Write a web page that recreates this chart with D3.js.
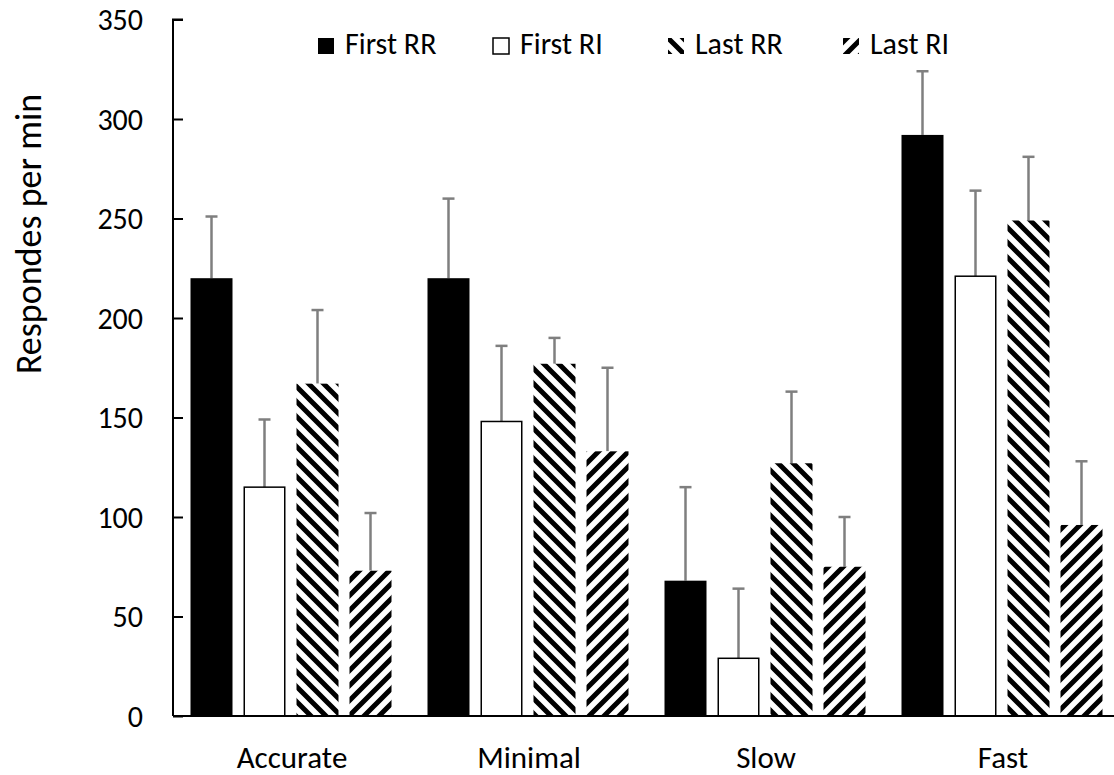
<!DOCTYPE html>
<html>
<head>
<meta charset="utf-8">
<script src="https://cdn.jsdelivr.net/npm/d3@7"></script>
<style>
  body { margin: 0; background: #fff; }
  svg text { font-family: Calibri, Carlito, Lato, sans-serif; fill: #000; }
</style>
</head>
<body>
<svg id="chart" width="1114" height="775"></svg>
<script>
// chart values
const categories = ['Accurate', 'Minimal', 'Slow', 'Fast'];
const seriesNames = ['First RR', 'First RI', 'Last RR', 'Last RI'];
const firstRR = [220, 220, 68, 292];
const firstRI = [115, 148, 29, 221];
const lastRR = [167, 177, 127, 249];
const lastRI = [73, 133, 75, 96];
// upper ends of the error bars
const firstRRErr = [251, 260, 115, 324];
const firstRIErr = [149, 186, 64, 264];
const lastRRErr = [204, 190, 163, 281];
const lastRIErr = [102, 175, 100, 128];
const yTicks = [0, 50, 100, 150, 200, 250, 300, 350];

const values = [firstRR, firstRI, lastRR, lastRI];
const errs = [firstRRErr, firstRIErr, lastRRErr, lastRIErr];

const svg = d3.select('#chart');
const plotLeft = 173, plotBottom = 716, plotTop = 19.5;

const x0 = d3.scaleBand().domain(categories).range([plotLeft, plotLeft + 4 * 237]);
const x1 = d3.scaleBand().domain(seriesNames).range([17.5, 218.5]).paddingInner(11 / 53);
const y = d3.scaleLinear().domain([0, 350]).range([plotBottom, plotTop]);

// hatch patterns
const defs = svg.append('defs');
function hatch (id, dir) {
  const p = defs.append('pattern')
    .attr('id', id)
    .attr('patternUnits', 'userSpaceOnUse')
    .attr('width', 15).attr('height', 15);
  p.append('rect').attr('width', 15).attr('height', 15).attr('fill', '#fff');
  const d = dir === 'down'
    ? 'M-4,-4 L19,19 M-4,11 L4,19 M11,-4 L19,4'
    : 'M-4,19 L19,-4 M-4,4 L4,-4 M11,19 L19,11';
  p.append('path').attr('d', d).attr('stroke', '#000').attr('stroke-width', 5);
}
hatch('hatchDown', 'down');
hatch('hatchUp', 'up');

const fills = ['#000', '#fff', 'url(#hatchDown)', 'url(#hatchUp)'];
const strokes = ['none', '#000', 'none', 'none'];

const rows = [];
categories.forEach((c, ci) => {
  seriesNames.forEach((s, si) => {
    rows.push({ cat: c, s: s, si: si, v: values[si][ci], e: errs[si][ci] });
  });
});

// error bars (behind bars)
const eb = svg.append('g').attr('stroke', '#7f7f7f').attr('stroke-width', 2.5);
rows.forEach(d => {
  const cx = x0(d.cat) + x1(d.s) + x1.bandwidth() / 2;
  eb.append('line').attr('x1', cx).attr('x2', cx).attr('y1', y(d.v)).attr('y2', y(d.e));
  eb.append('line').attr('x1', cx - 6).attr('x2', cx + 6).attr('y1', y(d.e)).attr('y2', y(d.e));
});

// bars
svg.append('g').selectAll('rect')
  .data(rows)
  .enter()
  .append('rect')
  .attr('x', d => x0(d.cat) + x1(d.s) + (d.si === 1 ? 0.75 : 0))
  .attr('y', d => y(d.v))
  .attr('width', d => x1.bandwidth() - (d.si === 1 ? 1.5 : 0))
  .attr('height', d => y(0) - y(d.v))
  .attr('fill', d => fills[d.si])
  .attr('stroke', d => strokes[d.si])
  .attr('stroke-width', 1.5);

// y axis
const yAxis = svg.append('g')
  .attr('transform', `translate(${plotLeft},0)`)
  .call(d3.axisRight(y).tickValues(yTicks).tickSize(10).tickFormat(''));
yAxis.select('.domain').attr('d', `M10,${plotTop}H0V${plotBottom}`).attr('stroke', '#000').attr('stroke-width', 2);
yAxis.selectAll('.tick line').attr('stroke', '#000').attr('stroke-width', 2);

svg.append('g').selectAll('text')
  .data(yTicks)
  .enter()
  .append('text')
  .attr('x', 143)
  .attr('y', d => y(d))
  .attr('dy', '0.36em')
  .attr('text-anchor', 'end')
  .style('font-size', '30px')
  .text(d => d);

// x axis
svg.append('line')
  .attr('x1', plotLeft).attr('x2', x0.range()[1])
  .attr('y1', plotBottom).attr('y2', plotBottom)
  .attr('stroke', '#000').attr('stroke-width', 2);

svg.append('g').selectAll('text')
  .data(categories)
  .enter()
  .append('text')
  .attr('x', d => x0(d) + 119)
  .attr('y', 768)
  .attr('text-anchor', 'middle')
  .style('font-size', '31px')
  .text(d => d);

// y title
svg.append('text')
  .attr('transform', 'translate(41,234) rotate(-90)')
  .attr('text-anchor', 'middle')
  .style('font-size', '36px')
  .text('Respondes per min');

// legend
const lg = svg.append('g').selectAll('g')
  .data(seriesNames)
  .enter()
  .append('g');
lg.append('rect')
  .attr('x', (d, i) => 318 + i * 175)
  .attr('y', 38)
  .attr('width', 16).attr('height', 16)
  .attr('fill', (d, i) => fills[i])
  .attr('stroke', (d, i) => strokes[i])
  .attr('stroke-width', 1.5);
lg.append('text')
  .attr('x', (d, i) => 345 + i * 175)
  .attr('y', 54)
  .style('font-size', '30px')
  .text(d => d);
</script>
</body>
</html>
